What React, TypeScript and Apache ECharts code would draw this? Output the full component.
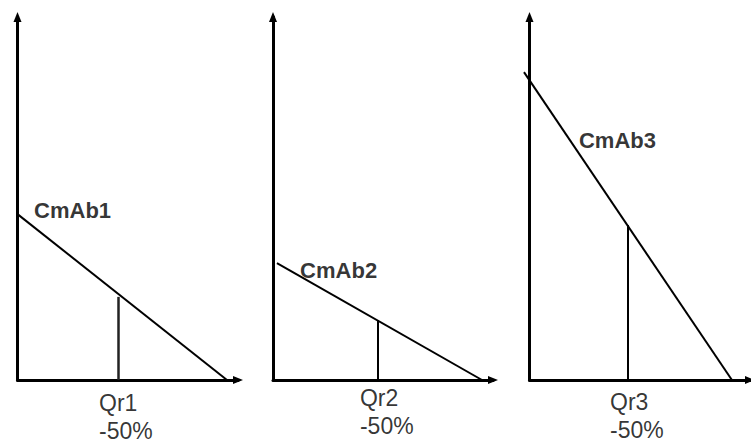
import React, { useEffect, useRef } from "react";
import * as echarts from "echarts";

// ---- data ----
const curveNames = ["CmAb1", "CmAb2", "CmAb3"];
const qrNames = ["Qr1", "Qr2", "Qr3"];
const qrChange = ["-50%", "-50%", "-50%"];
// demand line endpoints [x, y] in each panel's 0..100 space
const demandStart = [
  [0, 45.7],
  [1.8, 32.2],
  [-2.5, 84.8],
];
const demandEnd = [
  [95, 0],
  [95, 0],
  [91.8, 0],
];
// Qr position and the value on the curve
const qrX = [45.6, 47.7, 44.7];
const qrY = [22.9, 16.5, 42.7];
// curve label anchor positions
const curveLabelPos = [
  [7.3, 46.8],
  [12.1, 30.2],
  [22.2, 66.1],
];

// ---- layout ----
const gridLeft = [17.5, 273, 529.5];
const gridWidth = [220.5, 220, 220.5];
const gridTop = 17;
const gridHeight = 363;
const qrLabelOffsetX = [-19, -18, -18];
const qrLabelDistance = [8, 3, 7];

const FONT = "'Liberation Sans', Arial, sans-serif";

export default function App() {
  const ref = useRef<HTMLDivElement>(null);

  useEffect(() => {
    if (!ref.current) return;
    const chart = echarts.init(ref.current, undefined, { renderer: "svg" });

    const axisLine = {
      show: true,
      symbol: ["none", "triangle"],
      symbolSize: [8, 10],
      lineStyle: { color: "#000", width: 3 },
    };

    const grids = gridLeft.map((l, i) => ({
      left: l,
      top: gridTop,
      width: gridWidth[i],
      height: gridHeight,
      containLabel: false,
    }));

    const xAxes = gridLeft.map((_, i) => ({
      type: "value",
      gridIndex: i,
      min: 0,
      max: 100,
      axisLine,
      axisTick: { show: false },
      axisLabel: { show: false },
      splitLine: { show: false },
    }));
    const yAxes = gridLeft.map((_, i) => ({
      type: "value",
      gridIndex: i,
      min: 0,
      max: 100,
      axisLine,
      axisTick: { show: false },
      axisLabel: { show: false },
      splitLine: { show: false },
    }));

    const series: any[] = [];
    curveNames.forEach((name, i) => {
      series.push({
        type: "lines",
        coordinateSystem: "cartesian2d",
        xAxisIndex: i,
        yAxisIndex: i,
        data: [{ coords: [demandStart[i], demandEnd[i]] }],
        clip: false,
        silent: true,
        z: 5,
        lineStyle: { color: "#000", width: 2, opacity: 1 },
      });
      series.push({
        type: "lines",
        coordinateSystem: "cartesian2d",
        xAxisIndex: i,
        yAxisIndex: i,
        data: [
          {
            coords: [
              [qrX[i], 0],
              [qrX[i], qrY[i]],
            ],
          },
        ],
        clip: false,
        silent: true,
        lineStyle: { color: i === 0 ? "#222" : "#000", width: i === 0 ? 2.5 : 2, opacity: 1 },
      });
      series.push({
        type: "scatter",
        xAxisIndex: i,
        yAxisIndex: i,
        data: [curveLabelPos[i]],
        symbolSize: 1,
        clip: false,
        silent: true,
        itemStyle: { color: "rgba(0,0,0,0)" },
        label: {
          show: true,
          position: "right",
          distance: 0,
          formatter: name,
          color: "#000",
          fontFamily: FONT,
          fontWeight: "bold",
          fontSize: 22,
          lineHeight: 22,
        },
      });
      series.push({
        type: "scatter",
        xAxisIndex: i,
        yAxisIndex: i,
        data: [[qrX[i], 0]],
        symbolSize: 1,
        clip: false,
        silent: true,
        itemStyle: { color: "rgba(0,0,0,0)" },
        label: {
          show: true,
          position: "bottom",
          distance: qrLabelDistance[i],
          offset: [qrLabelOffsetX[i], 0],
          align: "left",
          formatter: qrNames[i] + "\n" + qrChange[i],
          color: "#000",
          fontFamily: FONT,
          fontSize: 23,
          lineHeight: 28,
        },
      });
    });

    chart.setOption({
      animation: false,
      backgroundColor: "#fff",
      grid: grids,
      xAxis: xAxes,
      yAxis: yAxes,
      series,
    });

    return () => chart.dispose();
  }, []);

  return (
    <div
      ref={ref}
      style={{ position: "fixed", left: 0, top: 0, width: 751, height: 443, background: "#fff" }}
    />
  );
}
